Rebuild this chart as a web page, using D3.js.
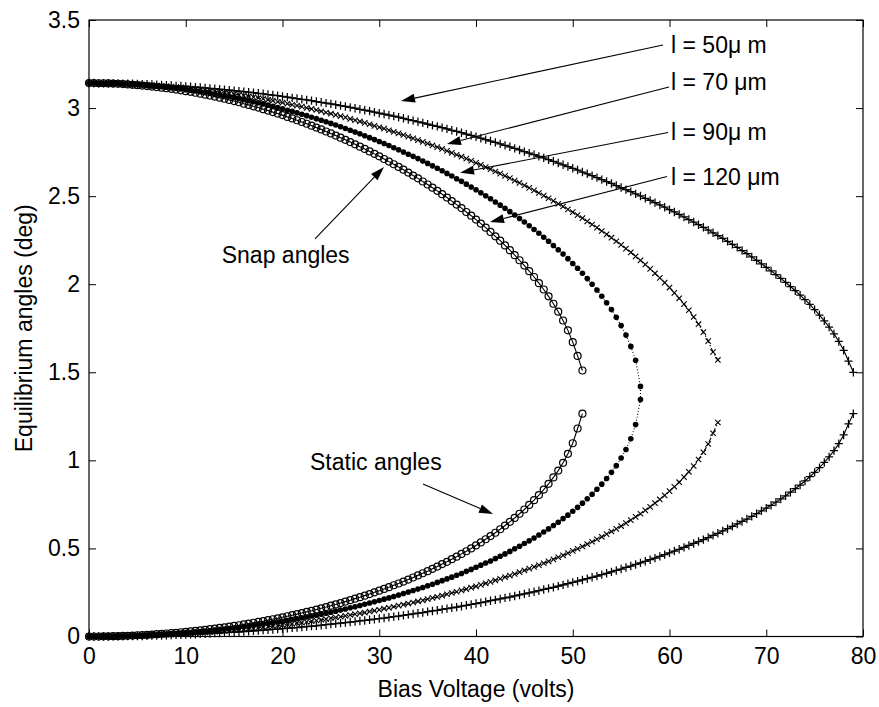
<!DOCTYPE html>
<html><head><meta charset="utf-8">
<script src="https://cdn.jsdelivr.net/npm/d3@7"></script>
<style>
body{margin:0;background:#fff}
text{font-family:"Liberation Sans",Arial,Helvetica,sans-serif;fill:#000}
</style></head>
<body><svg id="chart" width="879" height="707"></svg>
<script>
// ---------- data ----------
const voltage = [0,0.5,1,1.5,2,2.5,3,3.5,4,4.5,5,5.5,6,6.5,7,7.5,8,8.5,9,9.5,10,10.5,11,11.5,12,12.5,13,13.5,14,14.5,15,15.5,16,16.5,17,17.5,18,18.5,19,19.5,20,20.5,21,21.5,22,22.5,23,23.5,24,24.5,25,25.5,26,26.5,27,27.5,28,28.5,29,29.5,30,30.5,31,31.5,32,32.5,33,33.5,34,34.5,35,35.5,36,36.5,37,37.5,38,38.5,39,39.5,40,40.5,41,41.5,42,42.5,43,43.5,44,44.5,45,45.5,46,46.5,47,47.5,48,48.5,49,49.5,50,50.5,51,51.5,52,52.5,53,53.5,54,54.5,55,55.5,56,56.5,57,57.5,58,58.5,59,59.5,60,60.5,61,61.5,62,62.5,63,63.5,64,64.5,65,65.5,66,66.5,67,67.5,68,68.5,69,69.5,70,70.5,71,71.5,72,72.5,73,73.5,74,74.5,75,75.5,76,76.5,77,77.5,78,78.5,79];

// l = 50 um
const snap50 = [3.142,3.142,3.141,3.141,3.141,3.140,3.140,3.139,3.139,3.138,
3.137,3.136,3.135,3.134,3.132,3.131,3.130,3.128,3.126,3.125,
3.123,3.121,3.119,3.117,3.114,3.112,3.110,3.107,3.105,3.102,
3.099,3.096,3.093,3.090,3.087,3.084,3.081,3.077,3.074,3.070,
3.066,3.062,3.058,3.054,3.050,3.046,3.042,3.037,3.033,3.028,
3.024,3.019,3.014,3.009,3.004,2.999,2.993,2.988,2.983,2.977,
2.971,2.966,2.960,2.954,2.948,2.942,2.935,2.929,2.922,2.916,
2.909,2.902,2.896,2.889,2.882,2.874,2.867,2.860,2.852,2.845,
2.837,2.829,2.821,2.813,2.805,2.797,2.788,2.780,2.771,2.762,
2.753,2.744,2.735,2.726,2.717,2.707,2.698,2.688,2.678,2.668,
2.658,2.648,2.637,2.627,2.616,2.605,2.594,2.583,2.572,2.560,
2.549,2.537,2.525,2.513,2.501,2.488,2.476,2.463,2.450,2.437,
2.423,2.410,2.396,2.382,2.367,2.353,2.338,2.323,2.307,2.292,
2.276,2.260,2.243,2.226,2.209,2.191,2.173,2.155,2.136,2.116,
2.096,2.076,2.055,2.033,2.011,1.987,1.963,1.938,1.912,1.885,
1.856,1.825,1.792,1.757,1.718,1.675,1.625,1.564,1.500];
const static50 = [0,0,0,0,0,.001,.001,.001,.002,.002,
.003,.003,.004,.005,.005,.006,.007,.008,.009,.010,
.011,.012,.013,.015,.016,.017,.019,.020,.022,.023,
.025,.026,.028,.030,.032,.034,.036,.038,.040,.042,
.044,.047,.049,.051,.054,.056,.059,.061,.064,.067,
.070,.073,.076,.079,.082,.085,.088,.091,.095,.098,
.102,.105,.109,.113,.116,.120,.124,.128,.132,.136,
.141,.145,.149,.154,.158,.163,.167,.172,.177,.182,
.187,.192,.197,.203,.208,.213,.219,.224,.230,.236,
.242,.248,.254,.260,.267,.273,.279,.286,.293,.300,
.307,.314,.321,.328,.336,.343,.351,.359,.367,.375,
.383,.392,.400,.409,.418,.427,.436,.445,.455,.465,
.475,.485,.495,.506,.517,.528,.539,.550,.562,.574,
.586,.599,.612,.625,.639,.653,.667,.682,.697,.713,
.729,.745,.763,.781,.799,.819,.839,.860,.883,.907,
.932,.959,.988,1.020,1.055,1.095,1.144,1.207,1.265];

// l = 70 um
const snap70 = [3.142,3.142,3.141,3.141,3.140,3.140,3.139,3.138,3.137,3.136,
3.135,3.133,3.132,3.130,3.128,3.126,3.124,3.122,3.119,3.117,
3.114,3.111,3.108,3.105,3.102,3.098,3.095,3.091,3.087,3.083,
3.079,3.075,3.071,3.066,3.062,3.057,3.052,3.047,3.042,3.036,
3.031,3.025,3.019,3.014,3.008,3.001,2.995,2.989,2.982,2.975,
2.968,2.961,2.954,2.947,2.939,2.931,2.924,2.916,2.908,2.899,
2.891,2.883,2.874,2.865,2.856,2.847,2.838,2.828,2.818,2.808,
2.799,2.788,2.778,2.768,2.757,2.746,2.735,2.724,2.713,2.701,
2.689,2.678,2.665,2.653,2.640,2.628,2.615,2.602,2.588,2.575,
2.561,2.547,2.533,2.518,2.503,2.488,2.473,2.457,2.441,2.425,
2.409,2.392,2.375,2.357,2.339,2.321,2.302,2.283,2.264,2.244,
2.223,2.202,2.181,2.158,2.135,2.112,2.087,2.062,2.036,2.009,
1.981,1.951,1.920,1.887,1.852,1.814,1.773,1.728,1.677,1.615,
1.570];
const static70 = [0,0,0,0,.001,.001,.002,.002,.003,.003,
.004,.005,.006,.007,.008,.009,.010,.012,.013,.015,
.016,.018,.019,.021,.023,.025,.027,.029,.032,.034,
.036,.039,.041,.044,.047,.050,.053,.056,.059,.062,
.065,.069,.072,.076,.079,.083,.087,.091,.095,.099,
.104,.108,.112,.117,.122,.127,.131,.136,.142,.147,
.152,.158,.163,.169,.175,.181,.187,.193,.199,.205,
.212,.219,.225,.232,.240,.247,.254,.262,.269,.277,
.285,.293,.302,.310,.319,.328,.337,.346,.355,.365,
.375,.385,.395,.405,.416,.427,.438,.450,.461,.473,
.486,.498,.511,.524,.538,.552,.566,.581,.596,.611,
.627,.644,.661,.679,.697,.716,.736,.757,.778,.801,
.825,.850,.876,.905,.935,.968,1.005,1.046,1.093,1.154,
1.215];

// l = 90 um
const snap90 = [3.142,3.142,3.141,3.141,3.140,3.139,3.138,3.137,3.136,3.134,
3.132,3.131,3.128,3.126,3.124,3.121,3.118,3.115,3.112,3.109,
3.105,3.101,3.098,3.094,3.089,3.085,3.080,3.075,3.070,3.065,
3.060,3.054,3.048,3.042,3.036,3.030,3.024,3.017,3.010,3.003,
2.996,2.988,2.981,2.973,2.965,2.957,2.948,2.940,2.931,2.922,
2.913,2.904,2.894,2.884,2.874,2.864,2.854,2.843,2.832,2.821,
2.810,2.799,2.787,2.775,2.763,2.751,2.738,2.726,2.713,2.699,
2.686,2.672,2.658,2.644,2.629,2.614,2.599,2.584,2.568,2.552,
2.536,2.519,2.502,2.485,2.467,2.449,2.431,2.412,2.393,2.373,
2.353,2.332,2.311,2.289,2.267,2.244,2.220,2.196,2.171,2.145,
2.118,2.091,2.062,2.032,2.000,1.967,1.932,1.895,1.856,1.812,
1.765,1.711,1.647,1.568,1.420];
const static90 = [0,0,0,.001,.001,.001,.002,.003,.003,.004,
.005,.006,.008,.009,.010,.012,.014,.015,.017,.019,
.021,.023,.026,.028,.031,.033,.036,.039,.042,.045,
.048,.051,.055,.058,.062,.066,.070,.074,.078,.082,
.087,.091,.096,.101,.106,.111,.116,.121,.127,.132,
.138,.144,.150,.156,.163,.169,.176,.183,.190,.197,
.204,.212,.219,.227,.235,.244,.252,.261,.269,.278,
.288,.297,.307,.317,.327,.337,.348,.358,.370,.381,
.393,.405,.417,.429,.442,.456,.469,.483,.498,.512,
.528,.543,.559,.576,.593,.611,.630,.649,.669,.689,
.711,.733,.757,.782,.808,.836,.865,.897,.932,.970,
1.013,1.062,1.122,1.203,1.345];

// l = 120 um
const snap120 = [3.142,3.142,3.141,3.141,3.140,3.139,3.138,3.136,3.134,3.132,
3.130,3.128,3.125,3.122,3.119,3.116,3.113,3.109,3.105,3.101,
3.096,3.092,3.087,3.082,3.076,3.071,3.065,3.059,3.053,3.046,
3.040,3.033,3.025,3.018,3.010,3.003,2.994,2.986,2.977,2.969,
2.960,2.950,2.941,2.931,2.921,2.911,2.900,2.889,2.879,2.867,
2.856,2.844,2.832,2.820,2.807,2.794,2.781,2.768,2.754,2.740,
2.726,2.711,2.696,2.681,2.666,2.650,2.634,2.617,2.601,2.583,
2.566,2.548,2.530,2.511,2.492,2.472,2.452,2.432,2.410,2.389,
2.367,2.344,2.321,2.297,2.272,2.247,2.220,2.193,2.165,2.136,
2.106,2.074,2.041,2.006,1.970,1.931,1.889,1.844,1.794,1.738,
1.671,1.593,1.510];
const static120 = [0,0,0,.001,.001,.002,.002,.003,.004,.005,
.007,.008,.009,.011,.013,.015,.017,.019,.021,.024,
.026,.029,.032,.035,.038,.042,.045,.049,.052,.056,
.060,.064,.069,.073,.078,.083,.087,.093,.098,.103,
.109,.115,.121,.127,.133,.140,.146,.153,.160,.167,
.175,.182,.190,.198,.206,.215,.223,.232,.241,.251,
.260,.270,.280,.291,.301,.312,.323,.335,.347,.359,
.371,.384,.397,.411,.424,.439,.453,.469,.484,.500,
.517,.534,.552,.570,.589,.609,.630,.651,.673,.697,
.721,.747,.774,.803,.834,.867,.903,.942,.986,1.037,
1.097,1.181,1.265];

const xTicks = [0,10,20,30,40,50,60,70,80];
const yTicks = [0,0.5,1,1.5,2,2.5,3,3.5];
const seriesNames = ["l = 50\u03bc m","l = 70 \u03bcm","l = 90\u03bc m","l = 120 \u03bcm"];
// label anchor (volts, angle) and arrow start/tip (volts, angle) for each series label
const labelAt = [[60.16,3.313],[60.16,3.103],[60.16,2.819],[60.16,2.563]];
const arrowFrom = [[59.33,3.358],[59.95,3.120],[59.85,2.861],[59.74,2.611]];
const arrowTo = [[32.25,3.040],[37.0,2.796],[38.35,2.633],[41.45,2.353]];
const noteText = ["Snap angles","Static angles"];
const noteAt = [[13.72,2.120],[22.84,0.948]];
const noteFrom = [[23.36,2.257],[34.52,0.866]];
const noteTo = [[30.49,2.666],[41.76,0.695]];

// ---------- layout ----------
const svg = d3.select("#chart");
const L = 89, R = 863, T = 20, B = 636.5;
const x = d3.scaleLinear().domain([0,80]).range([L,R]);
const y = d3.scaleLinear().domain([0,3.5]).range([B,T]);
const FS = 23;

svg.append("rect").attr("width",879).attr("height",707).attr("fill","#fff");

const pts = arr => arr.map((t,i)=>({v:voltage[i], t}));
const series = [
  {snap:snap50, stat:static50, marker:"plus", dash:null, join:false},
  {snap:snap70, stat:static70, marker:"cross", dash:"5,2,1.5,2", join:false},
  {snap:snap90, stat:static90, marker:"dot", dash:"1,2", join:true},
  {snap:snap120, stat:static120, marker:"circle", dash:null, join:false}
];
const line = d3.line().x(d=>x(d.v)).y(d=>y(d.t));
const g = svg.append("g");

series.forEach(s=>{
  const up = pts(s.snap), lo = pts(s.stat);
  const paths = s.join ? [up.concat(lo.slice().reverse())] : [up, lo];
  paths.forEach(p=>{
    g.append("path").attr("d", line(p)).attr("fill","none")
     .attr("stroke","#000").attr("stroke-width",1.1)
     .attr("stroke-dasharray", s.dash);
  });
  const all = up.concat(lo);
  const mk = g.append("g");
  const sel = mk.selectAll("x").data(all);
  if (s.marker==="plus") {
    sel.join("path").attr("d","M-4,0H4M0,-4.2V4.2")
      .attr("transform",d=>`translate(${x(d.v)},${y(d.t)})`)
      .attr("stroke","#000").attr("stroke-width",1.25).attr("fill","none");
  } else if (s.marker==="cross") {
    sel.join("path").attr("d","M-2.7,-2.7L2.7,2.7M-2.7,2.7L2.7,-2.7")
      .attr("transform",d=>`translate(${x(d.v)},${y(d.t)})`)
      .attr("stroke","#000").attr("stroke-width",1.1).attr("fill","none");
  } else if (s.marker==="dot") {
    sel.join("circle").attr("cx",d=>x(d.v)).attr("cy",d=>y(d.t)).attr("r",2.8)
      .attr("fill","#000");
  } else {
    sel.join("circle").attr("cx",d=>x(d.v)).attr("cy",d=>y(d.t)).attr("r",3.5)
      .attr("fill","none").attr("stroke","#000").attr("stroke-width",1.2);
  }
});

// ---------- axes ----------
const fmt = d => String(d);
const axB = svg.append("g").attr("transform",`translate(0,${B})`)
  .call(d3.axisBottom(x).tickValues(xTicks).tickFormat(fmt).tickSize(-7).tickSizeOuter(0).tickPadding(11));
const axT = svg.append("g").attr("transform",`translate(0,${T})`)
  .call(d3.axisTop(x).tickValues(xTicks).tickFormat("").tickSize(-7).tickSizeOuter(0));
const axL = svg.append("g").attr("transform",`translate(${L},0)`)
  .call(d3.axisLeft(y).tickValues(yTicks).tickFormat(fmt).tickSize(-7).tickSizeOuter(0).tickPadding(9));
const axR = svg.append("g").attr("transform",`translate(${R},0)`)
  .call(d3.axisRight(y).tickValues(yTicks).tickFormat("").tickSize(-7).tickSizeOuter(0));
[axB,axT,axL,axR].forEach(a=>{
  a.select(".domain").remove();
  a.selectAll("line").attr("stroke","#000").attr("stroke-width",1);
  a.selectAll("text").style("font-size",FS+"px").attr("fill","#000")
   .style("font-family",'"Liberation Sans",Arial,sans-serif');
});
svg.append("rect").attr("x",L).attr("y",T).attr("width",R-L).attr("height",B-T)
  .attr("fill","none").attr("stroke","#000").attr("stroke-width",1.2);

svg.append("text").attr("x",(L+R)/2).attr("y",697).attr("text-anchor","middle")
  .style("font-size",FS+"px").text("Bias Voltage (volts)");
svg.append("text").attr("transform",`translate(32,${(T+B)/2}) rotate(-90)`)
  .attr("text-anchor","middle").style("font-size",FS+"px").text("Equilibrium angles (deg)");

// ---------- annotations ----------
function arrow(from,to){
  const x1=x(from[0]), y1=y(from[1]), x2=x(to[0]), y2=y(to[1]);
  const dx=x2-x1, dy=y2-y1, len=Math.hypot(dx,dy), ux=dx/len, uy=dy/len;
  const hl=14, hw=4.5;
  const bx=x2-ux*hl, by=y2-uy*hl;
  svg.append("line").attr("x1",x1).attr("y1",y1).attr("x2",bx).attr("y2",by)
    .attr("stroke","#000").attr("stroke-width",1.1);
  svg.append("path").attr("d",`M${x2},${y2}L${bx-uy*hw},${by+ux*hw}L${bx+uy*hw},${by-ux*hw}Z`)
    .attr("fill","#000");
}
seriesNames.forEach((n,i)=>{
  svg.append("text").attr("x",x(labelAt[i][0])).attr("y",y(labelAt[i][1]))
    .style("font-size",FS+"px").text(n);
  arrow(arrowFrom[i],arrowTo[i]);
});
noteText.forEach((n,i)=>{
  svg.append("text").attr("x",x(noteAt[i][0])).attr("y",y(noteAt[i][1]))
    .style("font-size",FS+"px").text(n);
  arrow(noteFrom[i],noteTo[i]);
});
</script></body></html>
